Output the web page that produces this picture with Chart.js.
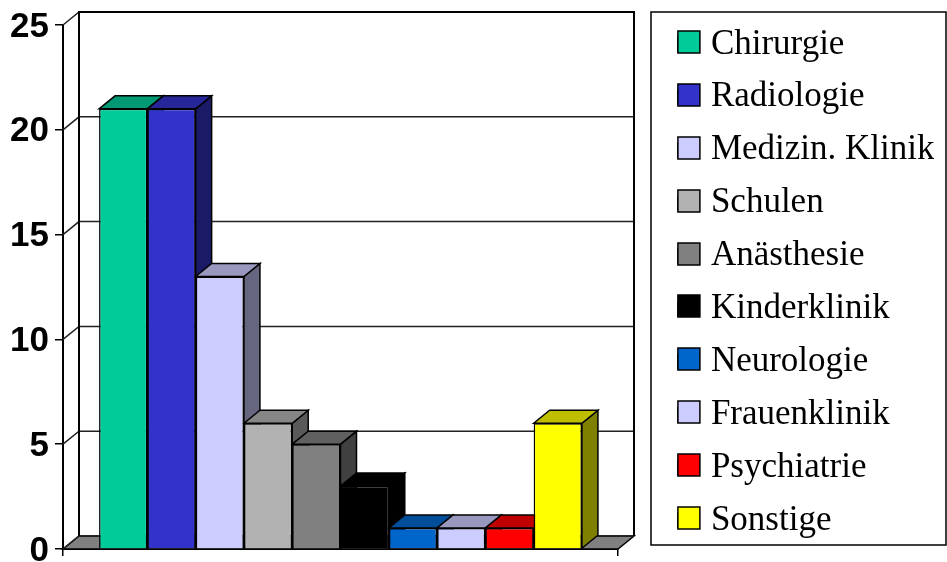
<!DOCTYPE html>
<html>
<head>
<meta charset="utf-8">
<title>Abteilungen</title>
<script src="https://cdn.jsdelivr.net/npm/chart.js@4/dist/chart.umd.min.js"></script>
<style>
    html, body { margin: 0; padding: 0; background: #ffffff; overflow: hidden; }
    #chart { display: block; }
</style>
</head>
<body>
<canvas id="chart" width="947" height="562"></canvas>
<script>
const categories = ["Abteilung"];
const seriesNames = ["Chirurgie", "Radiologie", "Medizin. Klinik", "Schulen", "Anästhesie", "Kinderklinik", "Neurologie", "Frauenklinik", "Psychiatrie", "Sonstige"];
const seriesValues = [21, 21, 13, 6, 5, 3, 1, 1, 1, 6];
const seriesColors = ["#00cc99", "#3333cc", "#ccccff", "#b2b2b2", "#808080", "#000000", "#0066cc", "#ccccff", "#ff0000", "#ffff00"];

// oblique offset of the back wall relative to the front plane
const DEPTH_X = 16;
const DEPTH_Y = 13;
const SWATCH = 22;
const SWATCH_LIFT = 2.5;

function shade(hex, factor) {
    const n = parseInt(hex.slice(1), 16);
    const r = Math.round(((n >> 16) & 255) * factor);
    const g = Math.round(((n >> 8) & 255) * factor);
    const b = Math.round((n & 255) * factor);
    return "rgb(" + r + "," + g + "," + b + ")";
}

function polygon(ctx, points, fill) {
    ctx.beginPath();
    ctx.moveTo(points[0][0], points[0][1]);
    for (let i = 1; i < points.length; i++) {
        ctx.lineTo(points[i][0], points[i][1]);
    }
    ctx.closePath();
    if (fill) {
        ctx.fillStyle = fill;
        ctx.fill();
    }
    ctx.stroke();
}

const box3d = {
    id: "box3d",
    beforeDatasetsDraw(chart) {
        const ctx = chart.ctx;
        const area = chart.chartArea;
        const y = chart.scales.y;
        const backLeft = area.left + DEPTH_X;
        const backRight = area.right + DEPTH_X;
        const floorY = y.getPixelForValue(0);

        ctx.save();
        ctx.strokeStyle = "#000000";
        ctx.lineJoin = "miter";

        // floor
        ctx.lineWidth = 1.5;
        polygon(ctx, [
            [area.left, floorY],
            [backLeft, floorY - DEPTH_Y],
            [backRight, floorY - DEPTH_Y],
            [area.right, floorY]
        ], "#808080");

        // grid on the back wall, joined to the axis by short diagonals
        ctx.strokeStyle = "#222222";
        y.ticks.forEach(function (tick) {
            const py = y.getPixelForValue(tick.value);
            ctx.beginPath();
            ctx.moveTo(area.left, py);
            ctx.lineTo(backLeft, py - DEPTH_Y);
            ctx.lineTo(backRight, py - DEPTH_Y);
            ctx.stroke();
        });

        // wall outline
        ctx.strokeStyle = "#000000";
        ctx.lineWidth = 2;
        ctx.beginPath();
        ctx.moveTo(backLeft, floorY - DEPTH_Y);
        ctx.lineTo(backLeft, y.getPixelForValue(25) - DEPTH_Y);
        ctx.lineTo(backRight, y.getPixelForValue(25) - DEPTH_Y);
        ctx.lineTo(backRight, floorY - DEPTH_Y);
        ctx.stroke();

        // side and top faces go left to right; the fronts are drawn later by the library
        ctx.lineWidth = 1.5;
        chart.data.datasets.forEach(function (ds, i) {
            const bar = chart.getDatasetMeta(i).data[0];
            const left = bar.x - bar.width / 2;
            const right = bar.x + bar.width / 2;
            polygon(ctx, [
                [right, bar.y],
                [right + DEPTH_X, bar.y - DEPTH_Y],
                [right + DEPTH_X, bar.base - DEPTH_Y],
                [right, bar.base]
            ], shade(ds.backgroundColor, 0.5));
            polygon(ctx, [
                [left, bar.y],
                [left + DEPTH_X, bar.y - DEPTH_Y],
                [right + DEPTH_X, bar.y - DEPTH_Y],
                [right, bar.y]
            ], shade(ds.backgroundColor, 0.75));
        });
        ctx.restore();
    },
    afterDraw(chart) {
        const ctx = chart.ctx;
        const legend = chart.legend;

        ctx.save();
        ctx.strokeStyle = "#000000";
        ctx.lineWidth = 1.5;

        // frame around the legend
        ctx.strokeRect(651, 12, 295, 533);

        // square swatches, wider than the legend's own text offset allows
        legend.legendItems.forEach(function (item, i) {
            const hit = legend.legendHitBoxes[i];
            const top = Math.round(hit.top + hit.height / 2 - SWATCH / 2 - SWATCH_LIFT);
            ctx.fillStyle = seriesColors[item.datasetIndex];
            ctx.fillRect(hit.left, top, SWATCH, SWATCH);
            ctx.strokeRect(hit.left, top, SWATCH, SWATCH);
        });
        ctx.restore();
    }
};

const datasets = [];
for (let i = 0; i < seriesNames.length; i++) {
    datasets.push({
        label: seriesNames[i],
        data: [seriesValues[i]],
        backgroundColor: seriesColors[i],
        borderColor: "#000000",
        borderWidth: 1.5,
        categoryPercentage: 0.87,
        barPercentage: 1,
        xAxisID: "x",
        yAxisID: "y"
    });
}

// hidden axes reserve the room taken by the oblique depth
function spacerAxis(position, size) {
    return {
        type: "linear",
        position: position,
        display: true,
        grid: { display: false },
        border: { display: false },
        ticks: { display: false },
        afterFit(scale) {
            if (position === "top") {
                scale.height = size;
            } else {
                scale.width = size;
            }
        }
    };
}

new Chart(document.getElementById("chart"), {
    type: "bar",
    data: { labels: categories, datasets: datasets },
    plugins: [box3d],
    options: {
        responsive: false,
        animation: false,
        layout: {
            autoPadding: false,
            padding: { top: 9, right: 13, bottom: 0, left: 0 }
        },
        plugins: {
            tooltip: { enabled: false },
            legend: {
                position: "right",
                align: "start",
                maxWidth: 274,
                labels: {
                    boxWidth: 15.5,
                    boxHeight: 14,
                    padding: 17.9,
                    color: "#000000",
                    font: { family: "'Liberation Serif', serif", size: 35 }
                }
            }
        },
        scales: {
            x: {
                offset: true,
                grid: {
                    offset: true,
                    drawOnChartArea: false,
                    drawTicks: true,
                    tickLength: 7,
                    color: "#000000",
                    lineWidth: 1.5
                },
                border: { display: true, color: "#000000", width: 2 },
                ticks: { display: false },
                afterFit(scale) {
                    scale.height = 13;
                }
            },
            y: {
                min: 0,
                max: 25,
                grid: {
                    drawOnChartArea: false,
                    drawTicks: true,
                    tickLength: 8,
                    color: "#000000",
                    lineWidth: 1.5
                },
                border: { display: true, color: "#000000", width: 2 },
                ticks: {
                    stepSize: 5,
                    padding: 6,
                    labelOffset: 2,
                    color: "#000000",
                    font: { family: "'Liberation Sans', Arial, sans-serif", size: 35, weight: "bold" }
                },
                afterFit(scale) {
                    scale.width = 63;
                    // the 0 label may run to the canvas edge
                    scale.paddingTop = 0;
                    scale.paddingBottom = 0;
                }
            },
            depthTop: Object.assign(spacerAxis("top", 16), { axis: "x" }),
            depthRight: Object.assign(spacerAxis("right", 42), { axis: "y" })
        }
    }
});
</script>
</body>
</html>
